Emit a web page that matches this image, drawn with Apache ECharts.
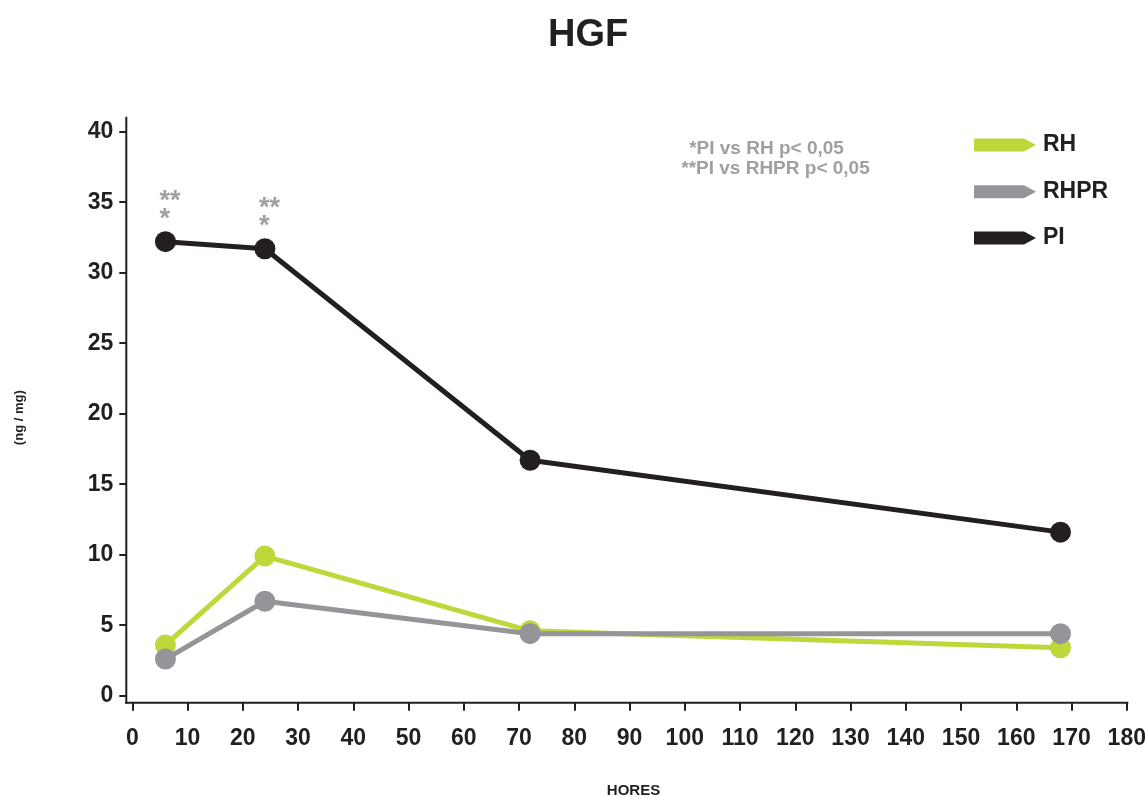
<!DOCTYPE html>
<html>
<head>
<meta charset="utf-8">
<script src="https://cdn.jsdelivr.net/npm/echarts@6/dist/echarts.min.js"></script>
<style>
  html, body { margin: 0; padding: 0; background: #ffffff; }
  #chart { width: 1146px; height: 798px; }
</style>
</head>
<body>
<div id="chart"></div>
<script>
// Sampling times (hours) and HGF concentration (ng / mg) per group
const hours = [6, 24, 72, 168];
const rhValues = [3.6, 9.9, 4.6, 3.4];
const rhprValues = [2.6, 6.7, 4.4, 4.4];
const piValues = [32.2, 31.7, 16.7, 11.6];

const seriesNames = ['RH', 'RHPR', 'PI'];
const seriesColors = ['#bed73b', '#939598', '#231f20'];

// Axis ranges and tick steps
const xRange = [0, 180];
const xStep = 10;
const yRange = [0, 40];
const yStep = 5;

// Significance marks above the PI points (two lines each)
const sigTop = ['**', '**', '', ''];
const sigBottom = ['*', '*', '', ''];
const notes = ['*PI vs RH p< 0,05', '**PI vs RHPR p< 0,05'];

const titleText = 'HGF';
const xName = 'HORES';
const yName = '(ng / mg)';

const FONT = 'Liberation Sans, Arial, Helvetica, sans-serif';
const INK = '#231f20';
const NOTE_GREY = '#a0a0a0';

const chart = echarts.init(document.getElementById('chart'), null, { renderer: 'canvas' });

const valueSets = [rhValues, rhprValues, piValues];
const series = seriesNames.map((name, i) => ({
  name: name,
  type: 'line',
  data: hours.map((h, k) => [h, valueSets[i][k]]),
  symbol: 'circle',
  symbolSize: 21,
  showSymbol: true,
  z: 2 + i,
  lineStyle: { width: 5, color: seriesColors[i] },
  itemStyle: { color: seriesColors[i] },
  emphasis: { disabled: true },
  silent: true
}));

const arrowIcon = 'path://M0,0L50,0L62,6.5L50,13L0,13Z';
const legendCentres = [145, 191.7, 238];
const legends = seriesNames.map((name, i) => ({
  data: [name],
  left: 974,
  top: legendCentres[i] - 11.5,
  padding: 0,
  icon: arrowIcon,
  itemWidth: 62,
  itemHeight: 13,
  selectedMode: false,
  textStyle: { fontFamily: FONT, fontSize: 23, fontWeight: 'bold', color: INK, padding: [0, 0, 0, 2] }
}));

chart.setOption({
  animation: false,
  backgroundColor: '#ffffff',
  title: {
    text: titleText,
    left: 543,
    top: 12,
    textStyle: { fontFamily: FONT, fontSize: 38, fontWeight: 'bold', color: INK }
  },
  legend: legends,
  grid: {
    left: 132.3,
    right: 19.2,
    top: 131.7,
    bottom: 102.3,
    containLabel: false,
    outerBoundsMode: 'none'
  },
  xAxis: {
    type: 'value',
    min: xRange[0],
    max: xRange[1],
    interval: xStep,
    offset: 7,
    axisLine: { show: false, onZero: false },
    axisTick: { show: true, length: 8, lineStyle: { color: INK, width: 2 } },
    splitLine: { show: false },
    axisLabel: {
      show: true, margin: 24, showMinLabel: true, showMaxLabel: true, hideOverlap: false,
      fontFamily: FONT, fontSize: 23, fontWeight: 'bold', color: INK
    }
  },
  yAxis: {
    type: 'value',
    min: yRange[0],
    max: yRange[1],
    interval: yStep,
    offset: 6,
    axisLine: { show: false, onZero: false },
    axisTick: { show: true, length: 7, lineStyle: { color: INK, width: 2 } },
    splitLine: { show: false },
    axisLabel: {
      show: true, margin: 13, showMinLabel: true, showMaxLabel: true, hideOverlap: false,
      fontFamily: FONT, fontSize: 23, fontWeight: 'bold', color: INK
    }
  },
  series: series
});

// Axis lines, axis names, significance marks and notes placed from the grid scale
function px(x, y) { return chart.convertToPixel({ gridIndex: 0 }, [x, y]); }
const origin = px(xRange[0], yRange[0]);
const topLeft = px(xRange[0], yRange[1]);
const bottomRight = px(xRange[1], yRange[0]);
const axisX = origin[0] - 6;
const axisY = origin[1] + 7;

const graphics = [
  { type: 'line', silent: true, z: 10,
    shape: { x1: axisX, y1: topLeft[1] - 15, x2: axisX, y2: axisY + 1 },
    style: { stroke: INK, lineWidth: 2 } },
  { type: 'line', silent: true, z: 10,
    shape: { x1: axisX - 1, y1: axisY, x2: bottomRight[0] + 1.5, y2: axisY },
    style: { stroke: INK, lineWidth: 2 } },
  { type: 'text', silent: true, x: 19, y: (topLeft[1] + origin[1]) / 2 + 4, rotation: Math.PI / 2,
    style: { text: yName, fontFamily: FONT, fontSize: 13, fontWeight: 'bold', fill: INK,
             align: 'center', verticalAlign: 'middle' } },
  { type: 'text', silent: true, x: 633.5, y: 791,
    style: { text: xName, fontFamily: FONT, fontSize: 15, fontWeight: 'bold', fill: INK,
             align: 'center', verticalAlign: 'middle' } },
  { type: 'text', silent: true, x: 766.5, y: 149,
    style: { text: notes[0], fontFamily: FONT, fontSize: 19, fontWeight: 'bold', fill: NOTE_GREY,
             align: 'center', verticalAlign: 'middle' } },
  { type: 'text', silent: true, x: 775.5, y: 169,
    style: { text: notes[1], fontFamily: FONT, fontSize: 19, fontWeight: 'bold', fill: NOTE_GREY,
             align: 'center', verticalAlign: 'middle' } }
];

hours.forEach((h, k) => {
  const p = px(h, piValues[k]);
  if (sigTop[k]) {
    graphics.push({ type: 'text', silent: true, x: p[0] - 6, y: p[1] - 40,
      style: { text: sigTop[k], fontFamily: FONT, fontSize: 27, fontWeight: 'bold', fill: NOTE_GREY,
               align: 'left', verticalAlign: 'middle' } });
  }
  if (sigBottom[k]) {
    graphics.push({ type: 'text', silent: true, x: p[0] - 6, y: p[1] - 22,
      style: { text: sigBottom[k], fontFamily: FONT, fontSize: 27, fontWeight: 'bold', fill: NOTE_GREY,
               align: 'left', verticalAlign: 'middle' } });
  }
});

chart.setOption({ graphic: graphics });
</script>
</body>
</html>
